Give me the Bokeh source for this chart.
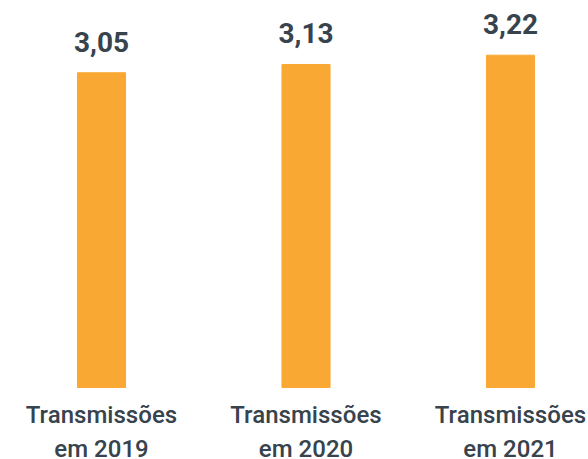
import numpy as np
from bokeh.plotting import figure
from bokeh.models import ColumnDataSource, Range1d
from bokeh.core.properties import value
from bokeh.embed import file_html
from bokeh.resources import INLINE

categories = ["Transmissões\nem 2019", "Transmissões\nem 2020", "Transmissões\nem 2021"]
line1 = ["Transmissões", "Transmissões", "Transmissões"]
line2 = ["em 2019", "em 2020", "em 2021"]
values = [3.05, 3.13, 3.22]
value_labels = ["3,05", "3,13", "3,22"]

BAR = "#F9A833"
TXT = "#37434D"

x = np.arange(len(categories))
src = ColumnDataSource(dict(x=x, top=values, vl=value_labels, l1=line1, l2=line2,
                            zero=[0] * len(values)))

p = figure(width=588, height=459, output_backend="svg", toolbar_location=None,
           x_range=Range1d(-0.4939, 2.3814), y_range=Range1d(-0.6977, 3.75),
           min_border=0, min_border_left=0, min_border_right=0,
           min_border_top=0, min_border_bottom=0)
p.axis.visible = False
p.grid.visible = False
p.outline_line_color = None
p.background_fill_color = "white"
p.border_fill_color = "white"

p.vbar(x="x", top="top", bottom=0, width=0.235, color=BAR, source=src)

p.text(x="x", y="top", text="vl", source=src, text_align="center",
       text_baseline="alphabetic", y_offset=-31, text_font=value("Roboto"),
       text_font_style="bold", text_font_size="28px", text_color=TXT)

lab_font = value("Roboto Medium, Roboto")
p.text(x="x", y="zero", text="l1", source=src, text_align="center",
       text_baseline="alphabetic", y_offset=28, text_font=lab_font,
       text_font_size="24px", text_color=TXT)
p.text(x="x", y="zero", text="l2", source=src, text_align="center",
       text_baseline="alphabetic", y_offset=62, text_font=lab_font,
       text_font_size="24px", text_color=TXT)

open("out.html", "w").write(file_html(p, INLINE))
